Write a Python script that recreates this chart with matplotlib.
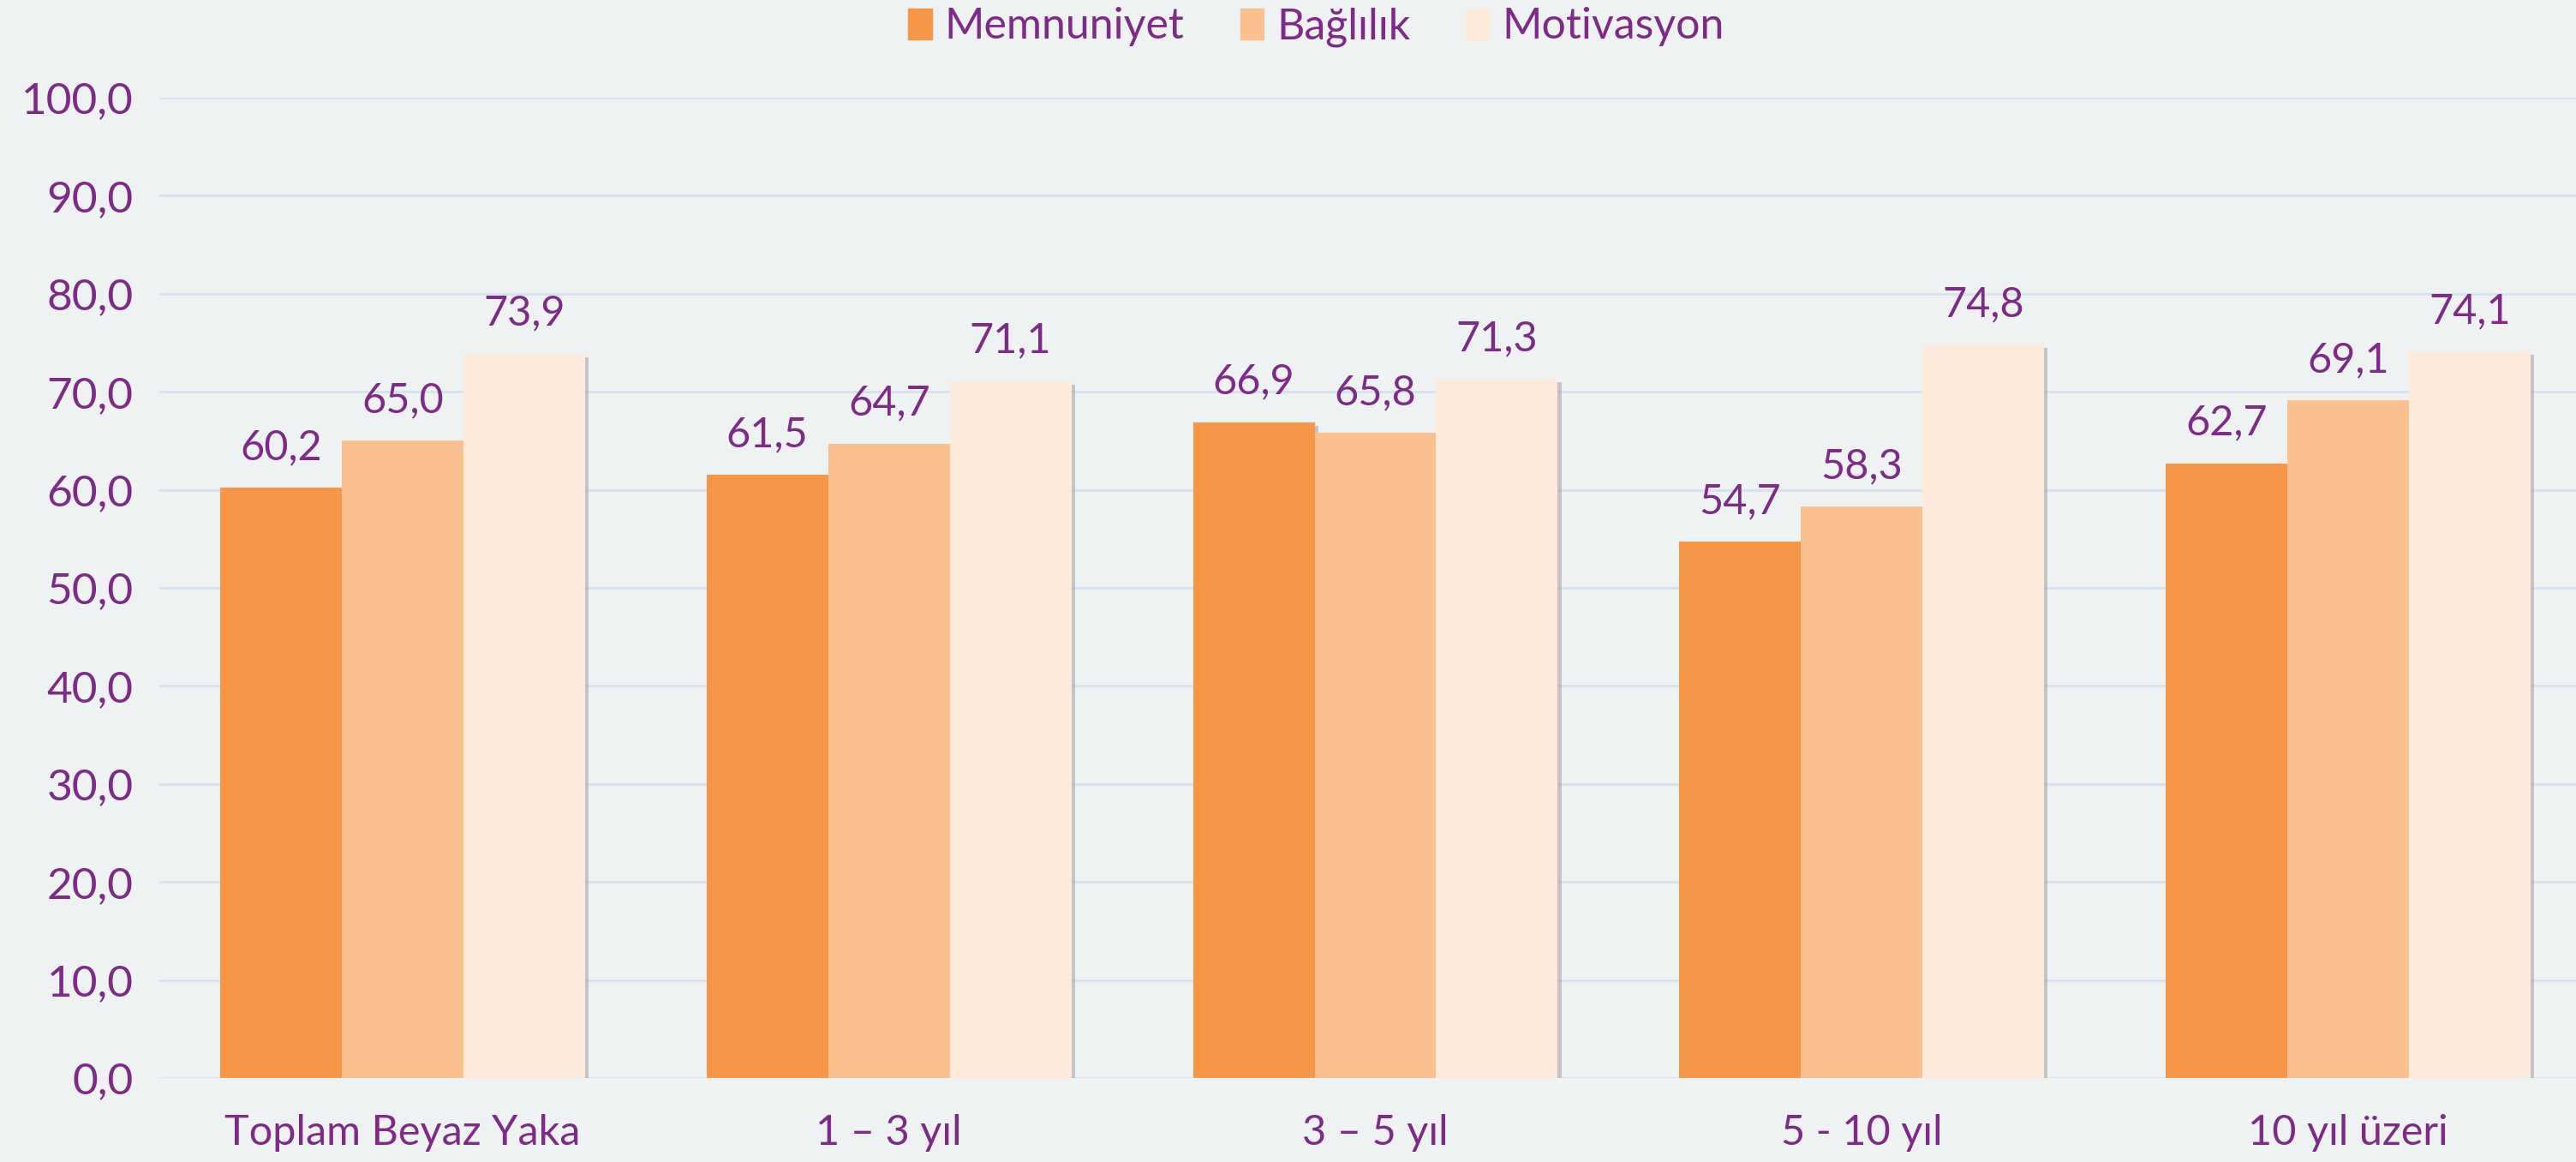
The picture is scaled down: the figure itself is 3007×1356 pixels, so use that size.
import matplotlib.pyplot as plt
import matplotlib.patheffects as pe
import numpy as np

plt.rcParams['font.family'] = ['Lato', 'DejaVu Sans']

categories = ["Toplam Beyaz Yaka", "1 – 3 yıl", "3 – 5 yıl", "5 - 10 yıl", "10 yıl üzeri"]
memnuniyet = [60.2, 61.5, 66.9, 54.7, 62.7]
baglilik = [65.0, 64.7, 65.8, 58.3, 69.1]
motivasyon = [73.9, 71.1, 71.3, 74.8, 74.1]
series_names = ["Memnuniyet", "Bağlılık", "Motivasyon"]
colors = ["#F79646", "#FAC090", "#FDEADA"]

purple = "#7F2A8A"
bg = "#EEF2F3"

fig = plt.figure(figsize=(30.07, 13.56), dpi=100, facecolor=bg)
ax = fig.add_axes([186 / 3007, 1 - 1258 / 1356, (3025 - 186) / 3007, (1258 - 114) / 1356])
ax.set_facecolor(bg)

x = np.arange(len(categories))
width = 0.25
shadow = [pe.SimplePatchShadow(offset=(3, -3), shadow_rgbFace="#9a9a9a", alpha=0.5), pe.Normal()]

handles = []
for i, (vals, name, c) in enumerate(zip([memnuniyet, baglilik, motivasyon], series_names, colors)):
    bars = ax.bar(x + (i - 1) * width, vals, width, color=c, label=name, zorder=3)
    for b in bars:
        b.set_path_effects(shadow)
    labels = [f"{v:.1f}".replace(".", ",") for v in vals]
    ax.bar_label(bars, labels=labels, padding=18, fontsize=35, color=purple)
    handles.append(plt.Rectangle((0, 0), 1, 1, color=c))

ax.set_xlim(-0.5, len(categories) - 0.5)
ax.set_ylim(0, 100)
ax.set_yticks(np.arange(0, 101, 10))
ax.set_yticklabels([f"{v:.1f}".replace(".", ",") for v in np.arange(0, 101, 10)])
ax.set_xticks(x)
ax.set_xticklabels(categories)
ax.tick_params(axis="both", length=0, colors=purple)
ax.tick_params(axis="y", pad=22, labelsize=37)
ax.tick_params(axis="x", pad=30, labelsize=35)
ax.grid(axis="y", color="#D5E2F1", linewidth=2, zorder=0)
for s in ax.spines.values():
    s.set_visible(False)

fig.legend(handles, series_names, loc="upper center", bbox_to_anchor=(0.511, 1.027), ncol=3, frameon=False,
           fontsize=36, labelcolor=purple, handlelength=0.55, handleheight=0.75,
           handletextpad=0.3, columnspacing=1.3)

fig.savefig("out.png", dpi=100, facecolor=bg)
